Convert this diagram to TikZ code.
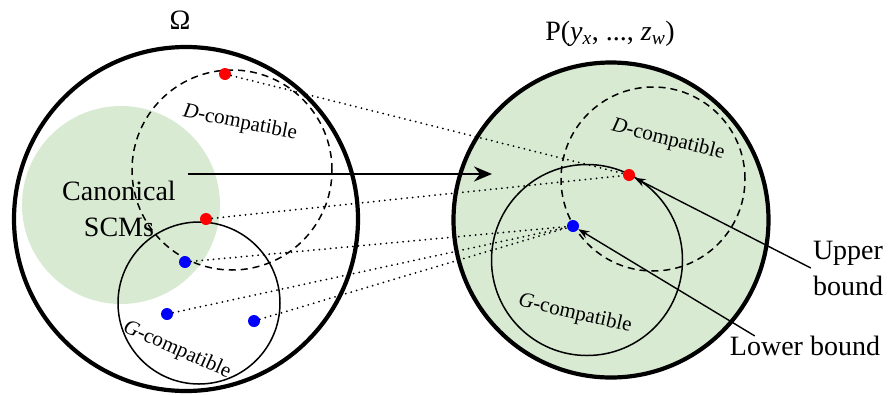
\documentclass[tikz,border=0pt]{standalone}
\usepackage{fontspec}
\setmainfont{Liberation Serif}
\usetikzlibrary{arrows.meta,calc}
\definecolor{canon}{HTML}{D9EAD3}
\definecolor{upperpt}{HTML}{FF0000}
\definecolor{lowerpt}{HTML}{0000FF}

\begin{document}
\begin{tikzpicture}[x=1pt,y=-1pt,>=Stealth,
  bigset/.style={draw,circle,line width=4.2pt,inner sep=0pt},
  compat/.style={draw,circle,inner sep=0pt,line width=1.5pt},
  dpart/.style={dash pattern=on 7pt off 5pt},
  dotpt/.style={circle,inner sep=0pt,minimum size=12pt},
  conn/.style={line width=2pt,line cap=round,dash pattern=on 0pt off 5.6pt},
  lab/.style={font=\fontsize{28}{36}\selectfont,align=center,inner sep=2pt},
  tag/.style={font=\fontsize{21}{24}\selectfont,inner sep=1pt}]
\useasboundingbox (0,0) rectangle (888,394);

%% space of all SCMs
\node[circle,fill=canon,inner sep=0pt,minimum size=198pt] (canon) at (121,205) {};
\node[bigset,minimum size=344pt] (omega) at (186,219) {};
\node[compat,dpart,minimum size=200pt] (dleft) at (232,170) {};
\node[compat,minimum size=162pt] (gleft) at (199,303) {};
\node[lab] (canonlab) at (119,209) {Canonical\\SCMs};
\node[tag,rotate=-11] (dleftlab) at (240,123) {\textit{D}-compatible};
\node[tag,rotate=-24] (gleftlab) at (177,350) {\textit{G}-compatible};
\node[lab] (omegalab) at (180,20) {Ω};

%% space of distributions
\node[bigset,fill=canon,minimum size=315pt] (dist) at (611,220) {};
\node[compat,dpart,minimum size=184pt] (dright) at (653,179) {};
\node[compat,minimum size=191pt] (gright) at (587,260) {};
\node[tag,rotate=-14] (drightlab) at (668,140) {\textit{D}-compatible};
\node[tag,rotate=-13] (grightlab) at (575,314) {\textit{G}-compatible};
\node[lab] (distlab) at (610,34) {P(\textit{y}\textsubscript{\textit{x}}, ..., \textit{z}\textsubscript{\textit{w}})};

%% mapping
\coordinate (mapfrom) at (188,174);
\coordinate (mapto) at (492,174);
\draw[-{Stealth[length=18pt,width=15pt,inset=6pt]},line width=2.8pt] (mapfrom) -- (mapto);

%% points
\node[dotpt,fill=upperpt] (ua) at (225,74) {};
\node[dotpt,fill=upperpt] (ub) at (206,219) {};
\node[dotpt,fill=lowerpt] (la) at (185,262) {};
\node[dotpt,fill=lowerpt] (lb) at (167,314) {};
\node[dotpt,fill=lowerpt] (lc) at (254,321) {};
\node[dotpt,fill=upperpt] (umax) at (629,175) {};
\node[dotpt,fill=lowerpt] (lmin) at (573,226) {};

\draw[conn] (ua) -- (umax);
\draw[conn] (ub) -- (umax);
\draw[conn] (la) -- (lmin);
\draw[conn] (lb) -- (lmin);
\draw[conn] (lc) -- (lmin);

%% bounds
\node[lab] (upper) at (848,268) {Upper\\bound};
\node[lab] (lower) at (805,346) {Lower bound};
\draw[-{Stealth[length=11pt,width=8pt]},line width=1.4pt] (upper.west) -- (umax);
\draw[-{Stealth[length=11pt,width=8pt]},line width=1.4pt] ([xshift=27pt,yshift=-2pt]lower.north west) -- (lmin);
\end{tikzpicture}
\end{document}
